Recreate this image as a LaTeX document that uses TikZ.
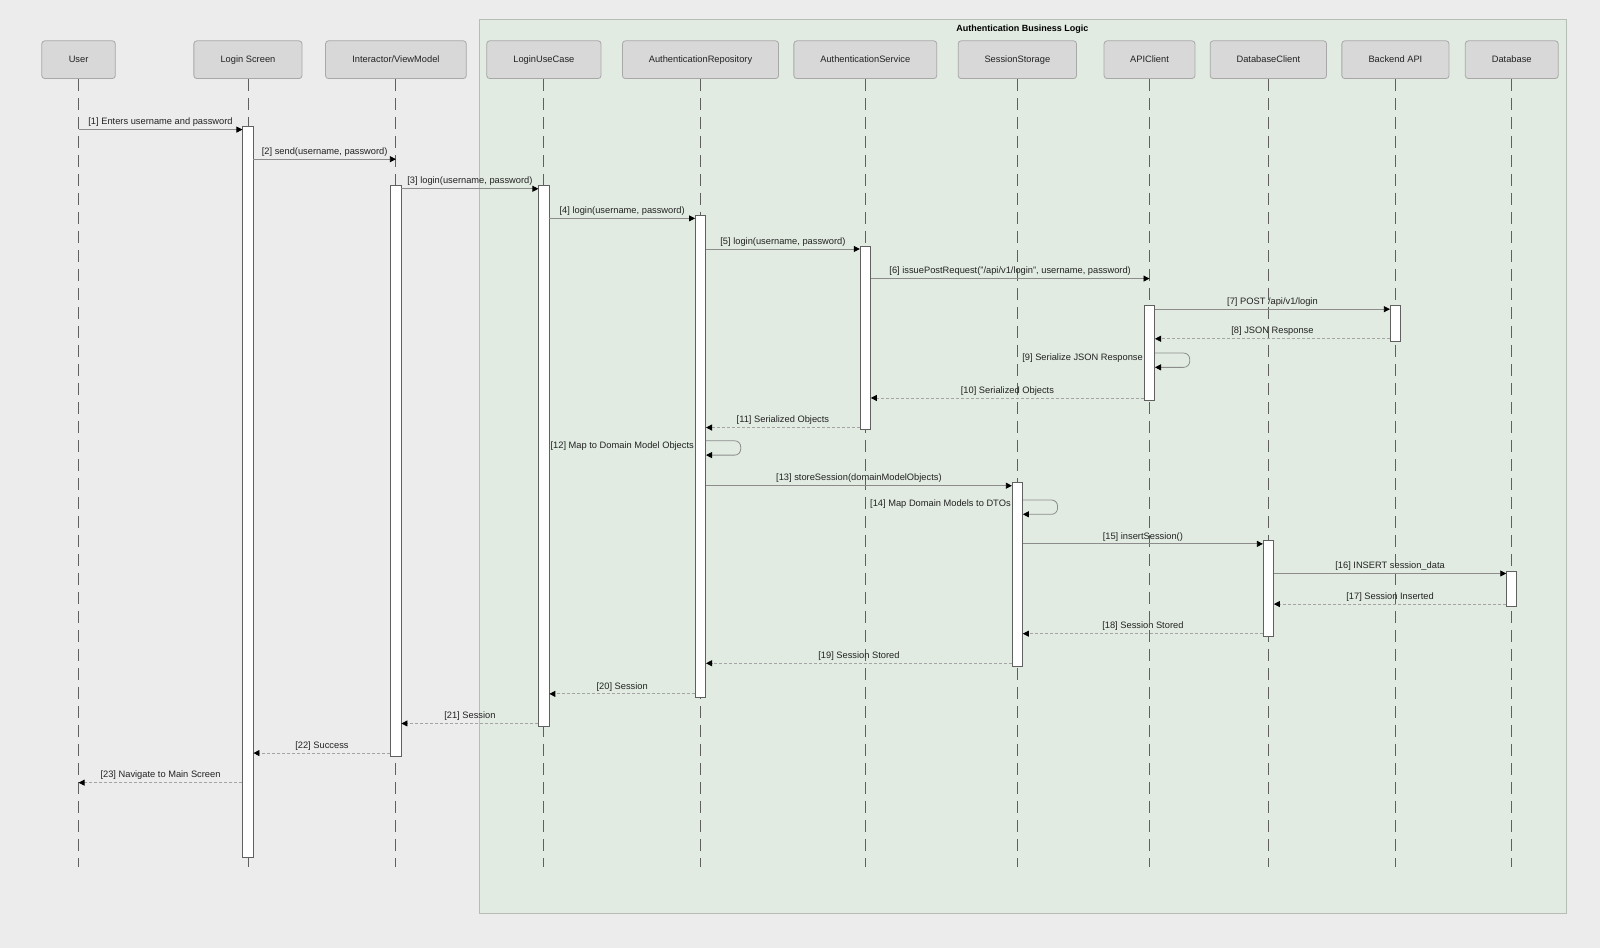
\documentclass[tikz,border=0pt]{standalone}
\usepackage{fontspec}
\setmainfont{Liberation Sans}
\usetikzlibrary{arrows.meta,calc}
\definecolor{bg}{HTML}{ECECEC}
\definecolor{grp}{HTML}{E1EBE2}
\definecolor{grpb}{HTML}{B6BCB6}
\definecolor{boxf}{HTML}{D8D8D8}
\definecolor{boxb}{HTML}{A8A8A8}
\definecolor{txt}{HTML}{222222}
\definecolor{life}{HTML}{606060}
\definecolor{msg}{HTML}{8C8C8C}
\definecolor{ret}{HTML}{A4A4A4}
\newdimen\pu \pu=1.0204pt
\newcommand\participant[4]{%
  \node[part, minimum width={#3*\pu}] (#1) at (#2,58.5) {#4};
  \draw[life] (#1.south) -- (#1.south |- 0,850);}
\newcommand\actbar[4]{%
  \node[actb, minimum height={(#4-#3)*\pu}] (#1) at (#2,{(#3+#4)/2}) {};}
\begin{document}
\begin{tikzpicture}[x=1.0204pt,y=-1.0204pt,
  part/.style={draw=boxb, fill=boxf, rounded corners=3pt, line width=0.8pt,
    font=\fontsize{9.3}{11}\selectfont, text=txt, inner sep=0pt,
    text height=0.72em, text depth=0.2em,
    minimum height={37*\pu}},
  life/.style={draw=life, line width=0.9pt, dash pattern=on 12pt off 7pt},
  actb/.style={draw=life, fill=white, line width=0.8pt, inner sep=0pt,
    minimum width={10*\pu}},
  tip/.style={-{Triangle[length=6pt,width=6pt,black]}},
  msgs/.style={draw=msg, line width=0.8pt, tip},
  rets/.style={draw=ret, line width=0.8pt, dash pattern=on 3pt off 2pt, tip},
  lbl/.style={font=\fontsize{9.3}{11}\selectfont, text=txt, inner sep=2.5pt},
  selfl/.style={draw=msg, line width=0.8pt, rounded corners=6pt, tip}
]
\useasboundingbox (0,0) rectangle (1568,929);
\fill[bg] (0,0) rectangle (1568,929);
% group frame
\node[draw=grpb, fill=grp, line width=0.9pt, inner sep=0pt,
  minimum width={1065*\pu}, minimum height={876*\pu}] (frame) at (1002.5,457) {};
\node[font=\bfseries\fontsize{9}{11}\selectfont, text=black] (title) at (1002,28.5) {Authentication Business Logic};
% participants
\participant{U}{77}{72}{User}
\participant{LS}{243}{106}{Login Screen}
\participant{IV}{388}{138}{Interactor/ViewModel}
\participant{UC}{533}{112}{LoginUseCase}
\participant{AR}{686.5}{153}{AuthenticationRepository}
\participant{AS}{848}{140}{AuthenticationService}
\participant{SS}{997}{116}{SessionStorage}
\participant{AC}{1126.5}{89}{APIClient}
\participant{DC}{1243}{114}{DatabaseClient}
\participant{BA}{1367.5}{105}{Backend API}
\participant{DB}{1481.5}{91}{Database}
% activation bars
\actbar{aLS}{243}{124}{840}
\actbar{aIV}{388}{182}{741}
\actbar{aUC}{533}{182}{712}
\actbar{aAR}{686.5}{211}{683}
\actbar{aAS}{848}{241}{421}
\actbar{aAC}{1126.5}{299}{392}
\actbar{aBA}{1367.5}{299}{335}
\actbar{aSS}{997}{473}{653}
\actbar{aDC}{1243}{530}{624}
\actbar{aDB}{1481.5}{560}{594}
% messages
\draw[msgs] (U.south |- 0,127) -- (aLS.west |- 0,127) node[lbl, midway, above] {[1] Enters username and password};
\draw[msgs] (aLS.east |- 0,156) -- (IV.south |- 0,156) node[lbl, midway, above] {[2] send(username, password)};
\draw[msgs] (aIV.east |- 0,185) -- (aUC.west |- 0,185) node[lbl, midway, above] {[3] login(username, password)};
\draw[msgs] (aUC.east |- 0,214) -- (aAR.west |- 0,214) node[lbl, midway, above] {[4] login(username, password)};
\draw[msgs] (aAR.east |- 0,244) -- (aAS.west |- 0,244) node[lbl, midway, above] {[5] login(username, password)};
\draw[msgs] (aAS.east |- 0,273) -- (AC.south |- 0,273) node[lbl, midway, above] {[6] issuePostRequest("/api/v1/login", username, password)};
\draw[msgs] (aAC.east |- 0,303) -- (aBA.west |- 0,303) node[lbl, midway, above] {[7] POST /api/v1/login};
\draw[rets] (aBA.west |- 0,332) -- (aAC.east |- 0,332) node[lbl, midway, above] {[8] JSON Response};
\draw[selfl] (aAC.east |- 0,346) -- ++(34,0) -- ++(0,14) -- (aAC.east |- 0,360);
\node[lbl, anchor=east, inner sep=1pt] (l9) at (aAC.west |- 0,351) {[9] Serialize JSON Response};
\draw[rets] (aAC.west |- 0,390) -- (aAS.east |- 0,390) node[lbl, midway, above] {[10] Serialized Objects};
\draw[rets] (aAS.west |- 0,419) -- (aAR.east |- 0,419) node[lbl, midway, above] {[11] Serialized Objects};
\draw[selfl] (aAR.east |- 0,432) -- ++(34,0) -- ++(0,14) -- (aAR.east |- 0,446);
\node[lbl, anchor=east, inner sep=1pt] (l12) at (aAR.west |- 0,437) {[12] Map to Domain Model Objects};
\draw[msgs] (aAR.east |- 0,476) -- (aSS.west |- 0,476) node[lbl, midway, above] {[13] storeSession(domainModelObjects)};
\draw[selfl] (aSS.east |- 0,490) -- ++(34,0) -- ++(0,14) -- (aSS.east |- 0,504);
\node[lbl, anchor=east, inner sep=1pt] (l14) at (aSS.west |- 0,494) {[14] Map Domain Models to DTOs};
\draw[msgs] (aSS.east |- 0,533) -- (aDC.west |- 0,533) node[lbl, midway, above] {[15] insertSession()};
\draw[msgs] (aDC.east |- 0,562) -- (aDB.west |- 0,562) node[lbl, midway, above] {[16] INSERT session\_data};
\draw[rets] (aDB.west |- 0,592) -- (aDC.east |- 0,592) node[lbl, midway, above] {[17] Session Inserted};
\draw[rets] (aDC.west |- 0,621) -- (aSS.east |- 0,621) node[lbl, midway, above] {[18] Session Stored};
\draw[rets] (aSS.west |- 0,650) -- (aAR.east |- 0,650) node[lbl, midway, above] {[19] Session Stored};
\draw[rets] (aAR.west |- 0,680) -- (aUC.east |- 0,680) node[lbl, midway, above] {[20] Session};
\draw[rets] (aUC.west |- 0,709) -- (aIV.east |- 0,709) node[lbl, midway, above] {[21] Session};
\draw[rets] (aIV.west |- 0,738) -- (aLS.east |- 0,738) node[lbl, midway, above] {[22] Success};
\draw[rets] (aLS.west |- 0,767) -- (U.south |- 0,767) node[lbl, midway, above] {[23] Navigate to Main Screen};
\end{tikzpicture}
\end{document}
